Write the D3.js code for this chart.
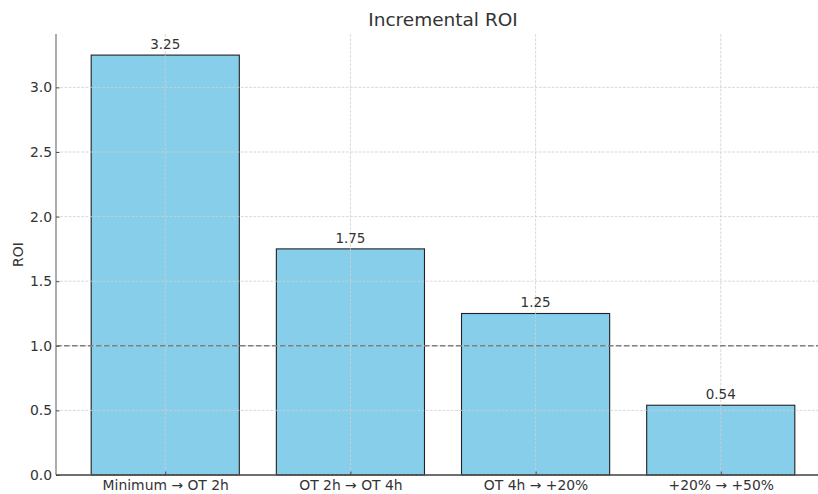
<!DOCTYPE html>
<html>
<head>
<meta charset="utf-8">
<script src="https://cdn.jsdelivr.net/npm/d3@7"></script>
<style>
  html, body { margin: 0; padding: 0; background: #fff; }
  svg { display: block; font-family: "DejaVu Sans", sans-serif; }
</style>
</head>
<body>
<svg id="chart" width="818" height="494"></svg>
<script>
// Incremental ROI per step
const categories = ["Minimum \u2192 OT 2h", "OT 2h \u2192 OT 4h", "OT 4h \u2192 +20%", "+20% \u2192 +50%"];
const roiValues = [3.25, 1.75, 1.25, 0.54];
const roiLabels = ["3.25", "1.75", "1.25", "0.54"];
const yTicks = [0.0, 0.5, 1.0, 1.5, 2.0, 2.5, 3.0];
const breakEven = 1.0;

const svg = d3.select("#chart");
const plotLeft = 56, plotRight = 830, plotTop = 34.1, plotBottom = 475;
const tickFont = "13.9px";

// Category positions as indices; bars span 0.8 of a step, with 5% padding around
const barW = 0.8;
const x = d3.scaleLinear()
  .domain([-barW / 2 - 0.19, categories.length - 1 + barW / 2 + 0.19])
  .range([plotLeft, plotRight]);
const y = d3.scaleLinear()
  .domain([0, d3.max(roiValues) * 1.05])
  .range([plotBottom, plotTop]);

// Bars
svg.append("g").selectAll("rect")
  .data(roiValues)
  .join("rect")
  .attr("x", (d, i) => x(i - barW / 2))
  .attr("width", (d, i) => x(i + barW / 2) - x(i - barW / 2))
  .attr("y", d => y(d))
  .attr("height", d => y(0) - y(d))
  .attr("fill", "#87ceeb")
  .attr("stroke", "#222")
  .attr("stroke-width", 1.1);

// Grid lines drawn above the bars
const grid = svg.append("g")
  .attr("stroke", "#cfcfcf")
  .attr("stroke-width", 0.8)
  .attr("stroke-dasharray", "2.8,1.4");
grid.selectAll("line.h")
  .data(yTicks)
  .join("line")
  .attr("class", "h")
  .attr("x1", plotLeft).attr("x2", plotRight)
  .attr("y1", d => y(d)).attr("y2", d => y(d));
grid.selectAll("line.v")
  .data(categories.map((c, i) => i))
  .join("line")
  .attr("class", "v")
  .attr("x1", d => x(d)).attr("x2", d => x(d))
  .attr("y1", plotTop).attr("y2", plotBottom);

// Break-even reference line
svg.append("line")
  .attr("x1", plotLeft).attr("x2", plotRight)
  .attr("y1", y(breakEven)).attr("y2", y(breakEven))
  .attr("stroke", "#808080")
  .attr("stroke-width", 1.5)
  .attr("stroke-dasharray", "5.5,2.5");

// Value labels above bars
svg.append("g").selectAll("text")
  .data(roiValues)
  .join("text")
  .attr("x", (d, i) => x(i))
  .attr("y", d => y(d) - 6)
  .attr("text-anchor", "middle")
  .attr("font-size", "13.5px")
  .attr("fill", "#333")
  .text((d, i) => roiLabels[i]);

// Y axis
const yAxis = d3.axisLeft(y)
  .tickValues(yTicks)
  .tickFormat(d3.format(".1f"))
  .tickSize(-3.5)
  .tickPadding(4);
const gy = svg.append("g").attr("transform", `translate(${plotLeft},0)`).call(yAxis);
gy.select(".domain").attr("stroke", "#808080").attr("stroke-width", 1.3)
  .attr("d", `M0,${plotTop}V${plotBottom}`);
gy.selectAll(".tick line").attr("stroke", "#555");
gy.selectAll(".tick text").attr("fill", "#333").attr("font-size", tickFont)
  .attr("font-family", "DejaVu Sans, sans-serif");

// X axis
const xAxis = d3.axisBottom(x)
  .tickValues(categories.map((c, i) => i))
  .tickFormat(i => categories[i])
  .tickSize(-3.5)
  .tickPadding(5);
const gx = svg.append("g").attr("transform", `translate(0,${plotBottom})`).call(xAxis);
gx.select(".domain").attr("stroke", "#444").attr("stroke-width", 1.3)
  .attr("d", `M${plotLeft},0H${plotRight}`);
gx.selectAll(".tick line").attr("stroke", "#444");
gx.selectAll(".tick text").attr("fill", "#333").attr("font-size", tickFont)
  .attr("font-family", "DejaVu Sans, sans-serif");

// Title and axis label
svg.append("text")
  .attr("x", (plotLeft + plotRight) / 2)
  .attr("y", 26)
  .attr("text-anchor", "middle")
  .attr("font-size", "18.5px")
  .attr("fill", "#333")
  .text("Incremental ROI");

svg.append("text")
  .attr("transform", `translate(23,${(plotTop + plotBottom) / 2}) rotate(-90)`)
  .attr("text-anchor", "middle")
  .attr("font-size", tickFont)
  .attr("fill", "#333")
  .text("ROI");
</script>
</body>
</html>
